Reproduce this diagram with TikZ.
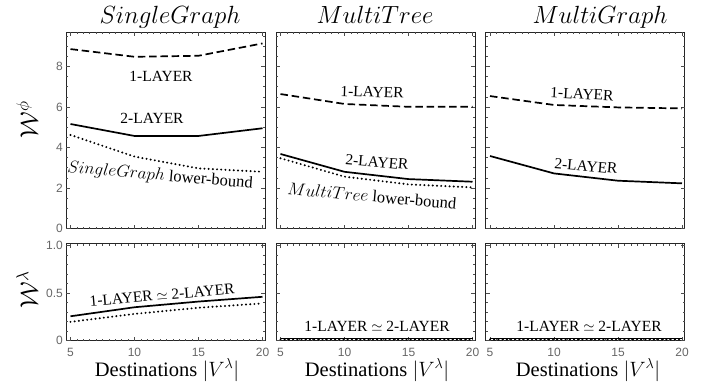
\documentclass[tikz,border=0pt]{standalone}
\usepackage{fontspec}
\setmainfont{Liberation Serif}
\newfontfamily\ticksfont{Liberation Sans}

% frame with inward major/minor ticks, upper row (W^phi from 0 to 9.7)
\newcommand\drawtopaxes{%
  \draw[frame] (4.6484,0) rectangle (20.195,9.7);
  \foreach \i in {10,...,40} {
    \draw[tickmark] (\i/2,0) -- ++(0,2pt);
    \draw[tickmark] (\i/2,9.7) -- ++(0,-2pt);}
  \foreach \t in {5,10,15,20} {
    \draw[tickmark] (\t,0) -- ++(0,4pt);
    \draw[tickmark] (\t,9.7) -- ++(0,-4pt);}
  \foreach \i in {0,...,19} {
    \draw[tickmark] (4.6484,\i/2) -- ++(2pt,0);
    \draw[tickmark] (20.195,\i/2) -- ++(-2pt,0);}
  \foreach \v in {0,2,4,6,8} {
    \draw[tickmark] (4.6484,\v) -- ++(4pt,0);
    \draw[tickmark] (20.195,\v) -- ++(-4pt,0);}
}
% same for the lower row (W^lambda from 0 to 1.02)
\newcommand\drawbotaxes{%
  \draw[frame] (4.6484,0) rectangle (20.195,1.02);
  \foreach \i in {10,...,40} {
    \draw[tickmark] (\i/2,0) -- ++(0,2pt);
    \draw[tickmark] (\i/2,1.02) -- ++(0,-2pt);}
  \foreach \t in {5,10,15,20} {
    \draw[tickmark] (\t,0) -- ++(0,4pt);
    \draw[tickmark] (\t,1.02) -- ++(0,-4pt);}
  \foreach \i in {0,...,10} {
    \draw[tickmark] (4.6484,\i/10) -- ++(2pt,0);
    \draw[tickmark] (20.195,\i/10) -- ++(-2pt,0);}
  \foreach \i in {0,5,10} {
    \draw[tickmark] (4.6484,\i/10) -- ++(4pt,0);
    \draw[tickmark] (20.195,\i/10) -- ++(-4pt,0);}
  \foreach \t in {5,10,15,20} {
    \node[ticklbl] (xt\t) at ([yshift=-11.5pt]\t,0) {\t};}
}

\begin{document}
\begin{tikzpicture}[x=1pt,y=1pt,
  frame/.style={draw=black!85, line width=0.9pt},
  tickmark/.style={draw=black!70, line width=0.6pt},
  ticklbl/.style={font=\ticksfont\fontsize{12}{14}\selectfont, text=black!60, inner sep=0pt},
  curvelbl/.style={font=\fontsize{15.5}{18}\selectfont, inner sep=0pt},
  boundlbl/.style={font=\fontsize{16.5}{19}\selectfont, inner sep=0pt},
  titlelbl/.style={font=\fontsize{24.5}{28}\selectfont, inner sep=0pt, anchor=base},
  axislbl/.style={font=\fontsize{20.5}{24}\selectfont, inner sep=0pt, anchor=base},
  wlbl/.style={font=\fontsize{26}{30}\selectfont, inner sep=0pt, rotate=90},
  onelayer/.style={line width=1.7pt, dash pattern=on 7.5pt off 3.8pt},
  twolayer/.style={line width=1.7pt},
  bound/.style={line width=2.2pt, dash pattern=on 0pt off 4.2pt, line cap=round},
  toprow/.style={x=12.8pt, y=20.25pt},
  botrow/.style={x=12.8pt, y=95pt}]

\path[use as bounding box] (0,0) rectangle (713,-383);

% ---------- column titles ----------
\node[titlelbl] (t1) at (170,-23) {$SingleGraph$};
\node[titlelbl] (t2) at (375,-23) {$MultiTree$};
\node[titlelbl] (t3) at (600,-23) {$MultiGraph$};

% ---------- row labels ----------
\node[wlbl] (wphi) at (27,-120) {$\mathcal{W}^{\phi}$};
\node[wlbl] (wlam) at (27,-290) {$\mathcal{W}^{\lambda}$};

% ---------- SingleGraph, upper ----------
\begin{scope}[shift={(6.5pt,-228.5pt)}, toprow]
  \drawtopaxes
  \foreach \v in {0,2,4,6,8} {
    \node[ticklbl, anchor=east] (ya\v) at ([xshift=-3pt]4.6484,\v) {\v};}
  \draw[onelayer] (5,8.86) -- (10,8.48) -- (15,8.53) -- (20,9.14);
  \draw[twolayer] (5,5.16) -- (10,4.57) -- (15,4.57) -- (20,4.95);
  \draw[bound] (5,4.62) -- (10,3.55) -- (15,2.97) -- (20,2.80);
\end{scope}
\node[curvelbl] (sg1) at (161,-76) {1-LAYER};
\node[curvelbl] (sg2) at (152,-118) {2-LAYER};
\node[boundlbl, rotate=-5] (sgb) at (160,-176) {$SingleGraph$ lower-bound};

% ---------- SingleGraph, lower ----------
\begin{scope}[shift={(6.5pt,-340.5pt)}, botrow]
  \drawbotaxes
  \node[ticklbl, anchor=east] (yb0) at ([xshift=-3pt]4.6484,0) {0};
  \node[ticklbl, anchor=east] (yb5) at ([xshift=-3pt]4.6484,0.5) {0.5};
  \node[ticklbl, anchor=east] (yb10) at ([xshift=-3pt]4.6484,1) {1.0};
  \draw[twolayer] (5,0.255) -- (10,0.35) -- (15,0.41) -- (20,0.46);
  \draw[bound] (5,0.196) -- (10,0.28) -- (15,0.345) -- (20,0.39);
\end{scope}
\node[curvelbl, rotate=5] (sgl) at (162,-295) {1-LAYER $\simeq$ 2-LAYER};
\node[axislbl] (d1) at (167,-376) {Destinations $|V^{\lambda}|$};

% ---------- MultiTree, upper ----------
\begin{scope}[shift={(216.5pt,-228.5pt)}, toprow]
  \drawtopaxes
  \draw[onelayer] (5,6.64) -- (10,6.15) -- (15,6.01) -- (20,6.01);
  \draw[twolayer] (5,3.68) -- (10,2.80) -- (15,2.44) -- (20,2.31);
  \draw[bound] (5,3.47) -- (10,2.56) -- (15,2.18) -- (20,2.03);
\end{scope}
\node[curvelbl, rotate=-2] (mt1) at (372,-92) {1-LAYER};
\node[curvelbl, rotate=-5] (mt2) at (377,-162) {2-LAYER};
\node[boundlbl, rotate=-5] (mtb) at (372,-196) {$MultiTree$ lower-bound};

% ---------- MultiTree, lower ----------
\begin{scope}[shift={(216.5pt,-340.5pt)}, botrow]
  \drawbotaxes
  \draw[twolayer] (5,0.02) -- (20,0.02);
  \draw[bound] (5,0.012) -- (20,0.012);
\end{scope}
\node[curvelbl] (mtl) at (377,-326) {1-LAYER $\simeq$ 2-LAYER};
\node[axislbl] (d2) at (377,-376) {Destinations $|V^{\lambda}|$};

% ---------- MultiGraph, upper ----------
\begin{scope}[shift={(426pt,-228.5pt)}, toprow]
  \drawtopaxes
  \draw[onelayer] (5,6.54) -- (10,6.10) -- (15,5.98) -- (20,5.93);
  \draw[twolayer] (5,3.58) -- (10,2.72) -- (15,2.36) -- (20,2.23);
\end{scope}
\node[curvelbl, rotate=-3] (mg1) at (582,-94) {1-LAYER};
\node[curvelbl, rotate=-5] (mg2) at (586,-166) {2-LAYER};

% ---------- MultiGraph, lower ----------
\begin{scope}[shift={(426pt,-340.5pt)}, botrow]
  \drawbotaxes
  \draw[twolayer] (5,0.02) -- (20,0.02);
  \draw[bound] (5,0.012) -- (20,0.012);
\end{scope}
\node[curvelbl] (mgl) at (589,-326) {1-LAYER $\simeq$ 2-LAYER};
\node[axislbl] (d3) at (588,-376) {Destinations $|V^{\lambda}|$};

\end{tikzpicture}
\end{document}
